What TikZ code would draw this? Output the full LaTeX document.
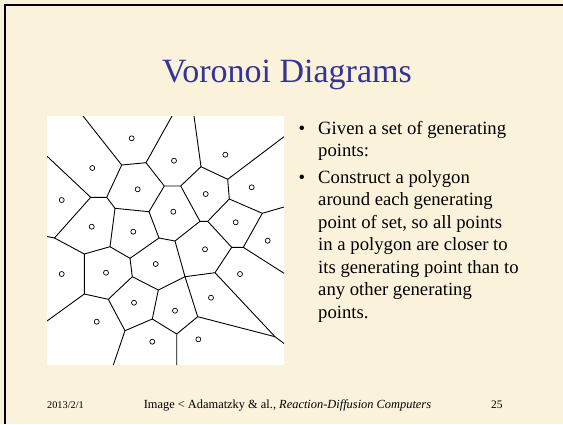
\documentclass[tikz,border=0pt]{standalone}
\usepackage{fontspec}
\setmainfont{Liberation Serif}
\definecolor{slidebg}{RGB}{251,242,220}
\definecolor{titleblue}{RGB}{51,51,153}
\tikzset{
  edge/.style={line width=0.9pt, black},
  site/.style={draw, circle, line width=0.7pt, minimum size=5pt, inner sep=0pt},
  bodytext/.style={anchor=base west, align=left, inner sep=0pt, font=\fontsize{18.7}{22.5}\selectfont},
  foot/.style={anchor=base west, inner sep=0pt, font=\fontsize{10.3}{12}\selectfont}
}
\begin{document}
\begin{tikzpicture}[x=1pt,y=-1pt]
\useasboundingbox (0,0) rectangle (563,424);
\fill[slidebg] (0,0) rectangle (563,424);
\draw[line width=2pt] (5,424) -- (5,5) -- (563,5);

\node[anchor=base, inner sep=0pt, text=titleblue, font=\fontsize{34}{40}\selectfont] (title) at (287,82) {Voronoi Diagrams};

\fill[white] (47,116) rectangle (284,365);
\begin{scope}
\clip (47,116) rectangle (284,365);
\coordinate (t1) at (83,116);
\coordinate (t2) at (172,116);
\coordinate (t3) at (194,116);
\coordinate (a) at (121.7,165);
\coordinate (b) at (146,162.7);
\coordinate (c) at (201,166.7);
\coordinate (d) at (227.7,179.3);
\coordinate (r1) at (284,136.7);
\coordinate (e) at (229.3,199);
\coordinate (f) at (262.3,213.3);
\coordinate (r2) at (284,207);
\coordinate (g) at (243.3,247.3);
\coordinate (h) at (231.7,247.3);
\coordinate (r3) at (284,273.3);
\coordinate (l1) at (200,221.3);
\coordinate (l2) at (207.7,221.3);
\coordinate (m) at (180.7,186);
\coordinate (o) at (164.3,186);
\coordinate (p) at (149,211.7);
\coordinate (u) at (115,208.3);
\coordinate (t) at (106.7,197.3);
\coordinate (s) at (90.7,197.3);
\coordinate (w1) at (47,156.2);
\coordinate (w) at (54.5,238);
\coordinate (w2) at (47,236.5);
\coordinate (v) at (84.3,254);
\coordinate (x) at (110,246.7);
\coordinate (y) at (130,258.3);
\coordinate (q) at (159,238);
\coordinate (n) at (175,241);
\coordinate (j) at (185,276.7);
\coordinate (i) at (215,272.7);
\coordinate (k) at (275,336.7);
\coordinate (r4) at (284,343.5);
\coordinate (ag) at (197.7,316.7);
\coordinate (af) at (176.7,334);
\coordinate (b1) at (176.7,365);
\coordinate (ae) at (152.3,319);
\coordinate (aa) at (158.3,290);
\coordinate (z) at (132.3,276.7);
\coordinate (ab) at (108.3,299.3);
\coordinate (ac) at (84.3,294);
\coordinate (w3) at (47,321);
\coordinate (ad) at (125,330.7);
\coordinate (b2) at (113.3,365);

\draw[edge] (t1) -- (a) -- (b) -- (t2);
\draw[edge] (t3) -- (c) -- (d) -- (r1);
\draw[edge] (d) -- (e) -- (f) -- (r2);
\draw[edge] (f) -- (g) -- (h) -- (l2) -- (e);
\draw[edge] (g) -- (r3);
\draw[edge] (l2) -- (l1) -- (m) -- (c);
\draw[edge] (m) -- (o) -- (b);
\draw[edge] (o) -- (p) -- (u) -- (t) -- (a);
\draw[edge] (t) -- (s) -- (w1);
\draw[edge] (s) -- (w) -- (w2);
\draw[edge] (w) -- (v) -- (x) -- (u);
\draw[edge] (x) -- (y) -- (q) -- (p);
\draw[edge] (q) -- (n) -- (l1);
\draw[edge] (n) -- (j) -- (i) -- (h);
\draw[edge] (i) -- (k) -- (r4);
\draw[edge] (k) -- (ag) -- (j);
\draw[edge] (ag) -- (af) -- (b1);
\draw[edge] (af) -- (ae) -- (aa) -- (j);
\draw[edge] (aa) -- (z) -- (y);
\draw[edge] (z) -- (ab) -- (ac) -- (v);
\draw[edge] (ac) -- (w3);
\draw[edge] (ab) -- (ad) -- (b2);
\draw[edge] (ad) -- (ae);

\foreach \px/\py [count=\ci] in {131.7/138.3, 92.3/168, 174/160.7, 225.3/154.7,
  61.7/200, 137.7/189.3, 205.7/194, 251.7/187.3, 173.3/211.7, 91.7/226.7,
  133.3/231.7, 235.7/222.3, 267.7/240.7, 205/249.3, 61.7/274, 106/272.7,
  155.7/264, 240/274, 211/297.7, 134/302.7, 175/310.7, 96.7/321.7,
  198.3/339.3, 152.3/341.7}
  \node[site] (site\ci) at (\px,\py) {};
\end{scope}

\node[inner sep=0pt, anchor=base, font=\fontsize{18.7}{22.5}\selectfont] (dot1) at (302,134) {\textbullet};
\node[bodytext] (item1) at (318,156.6) {Given a set of generating\\points:};
\node[inner sep=0pt, anchor=base, font=\fontsize{18.7}{22.5}\selectfont] (dot2) at (302,183.3) {\textbullet};
\node[bodytext] (item2) at (318,318.3) {Construct a polygon\\around each generating\\point of set, so all points\\in a polygon are closer to\\its generating point than to\\any other generating\\points.};

\node[foot] (date) at (47,408) {2013/2/1};
\node[foot, font=\fontsize{12.4}{14}\selectfont] (credit) at (143.6,408) {Image < Adamatzky \& al., \textit{Reaction-Diffusion Computers}};
\node[foot, font=\fontsize{11.5}{14}\selectfont] (page) at (491,408) {25};
\end{tikzpicture}
\end{document}
